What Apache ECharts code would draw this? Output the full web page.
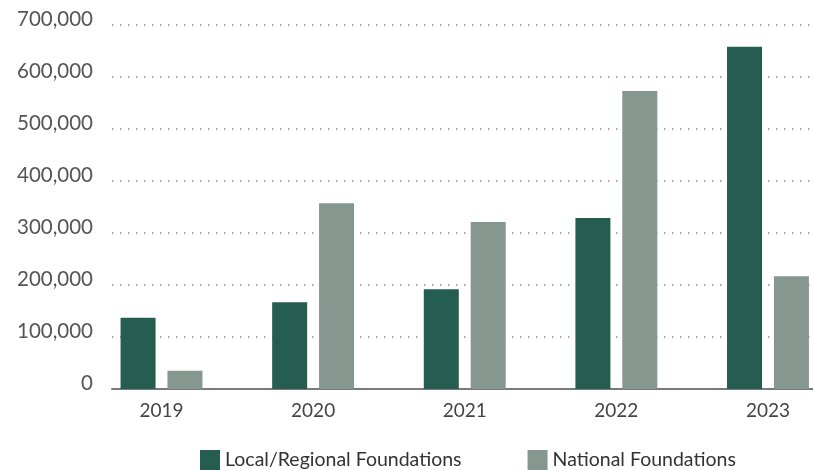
<!DOCTYPE html>
<html>
<head>
<meta charset="utf-8">
<script src="https://cdn.jsdelivr.net/npm/echarts@6/dist/echarts.min.js"></script>
<style>
html,body{margin:0;padding:0;background:#fff;}
#chart{width:813px;height:470px;}
</style>
</head>
<body>
<div id="chart"></div>
<script>
const years = ['2019', '2020', '2021', '2022', '2023'];
const localRegional = [137000, 167000, 192000, 329000, 658000];
const national = [35000, 357000, 321000, 573000, 217000];
const seriesNames = ['Local/Regional Foundations', 'National Foundations'];
const yMin = 0, yMax = 700000, yStep = 100000;
// x positions: one slot per year (index), axis window slightly cropped at both ends
const xIdx = years.map((_, i) => i);
const xMin = -0.3265, xMax = 4.297;

const FONT = 'Lato';
const chart = echarts.init(document.getElementById('chart'));
chart.setOption({
  animation: false,
  backgroundColor: '#ffffff',
  textStyle: { fontFamily: FONT },
  grid: { left: 112, right: 0, top: 25, bottom: 81 },
  legend: {
    data: seriesNames,
    left: 195, top: 445,
    itemWidth: 20, itemHeight: 20, itemGap: 66,
    icon: 'rect',
    textStyle: { fontFamily: FONT, fontSize: 19.5, color: '#333' }
  },
  xAxis: {
    type: 'value', min: xMin, max: xMax,
    axisLine: { show: true, onZero: false, lineStyle: { color: '#7a7a7a', width: 2 } },
    axisTick: { show: false },
    splitLine: { show: false },
    axisLabel: {
      fontFamily: FONT, fontSize: 19, color: '#444', margin: 12,
      customValues: xIdx, showMinLabel: true, showMaxLabel: true, hideOverlap: false,
      formatter: v => years[Math.round(v)] || ''
    }
  },
  yAxis: {
    type: 'value', min: yMin, max: yMax, interval: yStep,
    axisLine: { show: false }, axisTick: { show: false },
    axisLabel: {
      fontFamily: FONT, fontSize: 20.5, color: '#555', margin: 19,
      verticalAlign: 'bottom', lineHeight: 12,
      formatter: v => v.toLocaleString('en-US')
    },
    splitLine: { show: true, lineStyle: { color: '#a8a8a8', width: 2, type: [1.5, 6.5] } }
  },
  series: [
    {
      name: seriesNames[0], type: 'bar',
      data: xIdx.map((x, i) => [x, localRegional[i]]),
      barWidth: 35, barGap: '34%',
      itemStyle: { color: '#255d51' }
    },
    {
      name: seriesNames[1], type: 'bar',
      data: xIdx.map((x, i) => [x, national[i]]),
      barWidth: 35, barGap: '34%',
      itemStyle: { color: '#85978f' }
    }
  ]
});
</script>
</body>
</html>
